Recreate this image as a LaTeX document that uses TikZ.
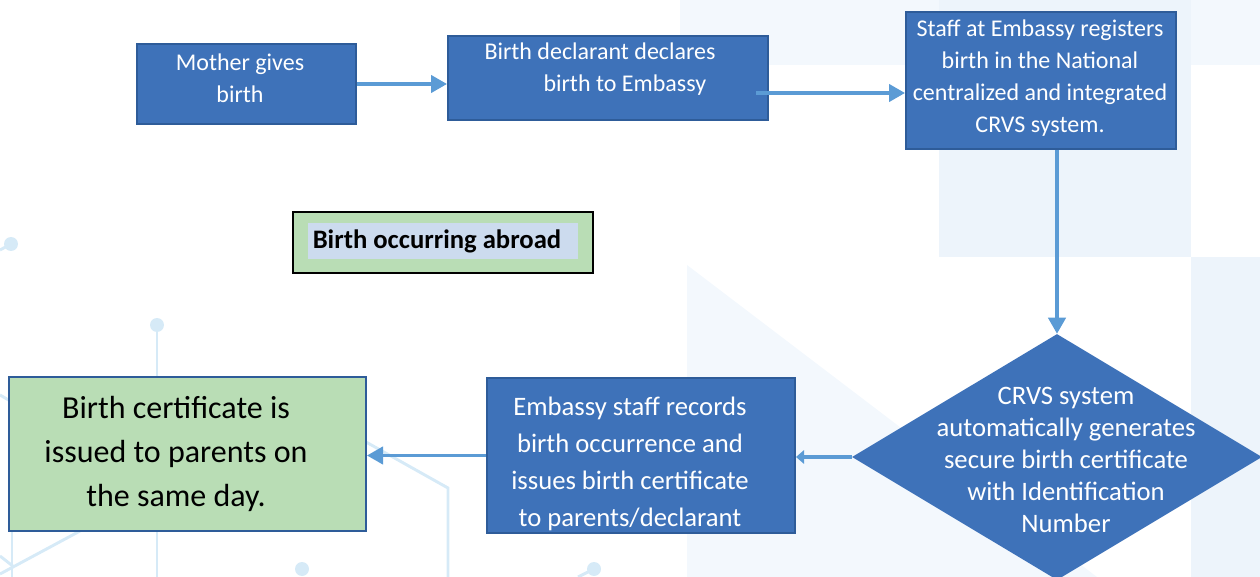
\documentclass[tikz,border=0pt]{standalone}
\usepackage{fontspec}
\setmainfont{Carlito}
\usetikzlibrary{arrows.meta,shapes.geometric,calc}

\definecolor{boxblue}{RGB}{62,114,185}
\definecolor{boxedge}{RGB}{46,92,153}
\definecolor{arrowblue}{RGB}{91,155,213}
\definecolor{leafgreen}{RGB}{185,221,181}
\definecolor{markblue}{RGB}{204,219,238}
\definecolor{netblue}{RGB}{214,234,247}
\definecolor{paleA}{RGB}{243,248,253}
\definecolor{paleB}{RGB}{237,244,251}

\tikzset{
  stepbox/.style={draw=boxedge, line width=1.5pt, fill=boxblue, inner sep=0pt},
  steptext/.style={text=white, align=center, inner sep=0pt},
  flowarrow/.style={draw=arrowblue, line width=2.4pt, -{Triangle[length=12pt,width=13pt]}},
  smallarrow/.style={draw=arrowblue, line width=2.4pt, -{Triangle[length=6pt,width=10pt]}},
  netline/.style={draw=netblue, line width=2.2pt},
  netdot/.style={fill=netblue}
}

\begin{document}
\begin{tikzpicture}[x=0.75pt,y=-0.75pt]
\useasboundingbox (0,0) rectangle (1260,577);

% pale background panels
\fill[paleA] (680,0) rectangle (1260,65);
\fill[paleB] (939,0) rectangle (1191,257);
\fill[paleA] (687,265) -- (687,577) -- (1097,577) -- cycle;
\fill[paleB] (1191,257) rectangle (1260,577);

% network ornament
\draw[netline] (0,250) -- (11,244);
\fill[netdot] (11,244) circle (7);
\draw[netline] (157,325) -- (157,577);
\fill[netdot] (157,325) circle (7);
\draw[netline] (0,395) -- (12,402);
\draw[netline] (366,442) -- (448,488) -- (448,577);
\draw[netline] (80,531) -- (0,574);
\draw[netline] (12,531) -- (12,577);
\draw[netline] (0,556) -- (14,567);
\fill[netdot] (302,569) circle (7);
\draw[netline] (594,569) -- (578,577);
\fill[netdot] (594,569) circle (7);

% process boxes
\node[stepbox, minimum width=164.25pt, minimum height=60pt] (mother) at (246.5,84) {};
\node[steptext, font=\fontsize{18}{24}\selectfont] (mother-t) at (240,78) {Mother gives\\birth};

\node[stepbox, minimum width=240pt, minimum height=63pt] (decl) at (608,78) {};
\node[steptext, align=left, font=\fontsize{18}{24}\selectfont] (decl-t) at (600,69.5)
  {Birth declarant declares\\\hspace*{44.25pt}birth to Embassy};

\node[stepbox, minimum width=202.5pt, minimum height=102.75pt] (staff) at (1041,80.5) {};
\node[steptext, font=\fontsize{18}{24}\selectfont] (staff-t) at (1040,78)
  {Staff at Embassy registers\\birth in the National\\centralized and integrated\\CRVS system.};

\node[diamond, fill=boxblue, inner sep=0pt, minimum width=307.5pt, minimum height=184.5pt] (crvs) at (1057,457) {};
\node[steptext, font=\fontsize{20}{24}\selectfont] (crvs-t) at (1066,460)
  {CRVS system\\automatically generates\\secure birth certificate\\with Identification\\Number};

\node[stepbox, minimum width=231pt, minimum height=116.25pt] (record) at (641,455.5) {};
\node[steptext, font=\fontsize{20}{27.75}\selectfont] (record-t) at (630,464)
  {Embassy staff records\\birth occurrence and\\issues birth certificate\\to parents/declarant};

\node[stepbox, fill=leafgreen, minimum width=267.75pt, minimum height=115.5pt] (issued) at (187.5,454) {};
\node[align=center, inner sep=0pt, font=\fontsize{24}{33}\selectfont] (issued-t) at (176,454)
  {Birth certificate is\\issued to parents on\\the same day.};

% title box
\node[draw=black, line width=1.5pt, fill=leafgreen, minimum width=225pt, minimum height=45.75pt, inner sep=0pt] (title) at (443,242.5) {};
\node[fill=markblue, minimum width=202.5pt, minimum height=27pt, inner sep=0pt] (title-mark) at (443,241) {};
\node[inner sep=0pt, font=\fontsize{20}{24}\selectfont\bfseries] (title-t) at (437,241) {Birth occurring abroad};

% connectors
\draw[flowarrow] (mother.east) -- (decl.west |- mother.east);
\draw[flowarrow] ($(decl.east)+(-13,15)$) -- ($(staff.west |- decl.east)+(0,15)$);
\draw[flowarrow] ($(staff.south)+(16,0)$) -- (crvs.north);
\draw[smallarrow] (crvs.west) -- (record.east |- crvs.west);
\draw[flowarrow] (record.west) -- (issued.east |- record.west);
\end{tikzpicture}
\end{document}
